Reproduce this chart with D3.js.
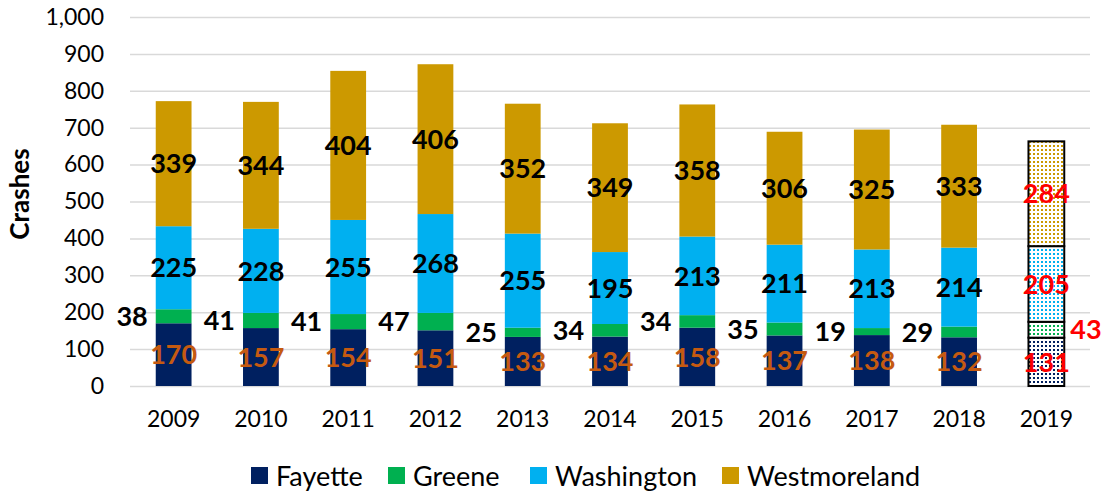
<!DOCTYPE html>
<html>
<head>
<meta charset="utf-8">
<script src="https://cdn.jsdelivr.net/npm/d3@7"></script>
<style>
  html, body { margin: 0; padding: 0; background: #fff; }
  svg { display: block; font-family: Lato, "Open Sans", sans-serif; }
</style>
</head>
<body>
<svg id="chart" width="1109" height="494"></svg>
<script>
// Crashes per year by county
const years = ["2009","2010","2011","2012","2013","2014","2015","2016","2017","2018","2019"];
const counties = ["Fayette", "Greene", "Washington", "Westmoreland"];
const fayette      = [170, 157, 154, 151, 133, 134, 158, 137, 138, 132, 131];
const greene       = [38, 41, 41, 47, 25, 34, 34, 35, 19, 29, 43];
const washington   = [225, 228, 255, 268, 255, 195, 213, 211, 213, 214, 205];
const westmoreland = [339, 344, 404, 406, 352, 349, 358, 306, 325, 333, 284];
const yTicks = [0, 100, 200, 300, 400, 500, 600, 700, 800, 900, 1000];
const preliminaryYear = "2019";

const colors = ["#002060", "#00B050", "#00B0F0", "#CC9900"];
const seriesValues = [fayette, greene, washington, westmoreland];

const rows = years.map((y, i) => {
  const r = { year: y };
  counties.forEach((c, k) => r[c] = seriesValues[k][i]);
  return r;
});
const stacked = d3.stack().keys(counties)(rows);

const svg = d3.select("#chart");
const margin = { left: 130, right: 19, top: 17, bottom: 108 };
const W = 1109, H = 494;

const x = d3.scaleBand().domain(years).range([margin.left, W - margin.right]).paddingInner(0.59).paddingOuter(0.295);
const y = d3.scaleLinear().domain([0, 1000]).range([H - margin.bottom, margin.top]);

// dotted fills for the preliminary year
const defs = svg.append("defs");
counties.forEach((c, k) => {
  const p = defs.append("pattern").attr("id", "dots" + k)
    .attr("width", 4).attr("height", 4).attr("patternUnits", "userSpaceOnUse");
  p.append("rect").attr("width", 4).attr("height", 4).attr("fill", "#fff");
  p.append("rect").attr("x", 1).attr("y", 1).attr("width", 2).attr("height", 2).attr("fill", colors[k]);
});

// gridlines
const yAxis = d3.axisLeft(y).tickValues(yTicks).tickSize(-(W - margin.left - margin.right)).tickFormat(d3.format(","));
const gy = svg.append("g").attr("transform", `translate(${margin.left},0)`).call(yAxis)
  .attr("font-family", null).attr("font-size", null);
gy.select(".domain").remove();
gy.selectAll(".tick line").attr("stroke", "#d9d9d9").attr("stroke-width", 1.5);
gy.selectAll(".tick text").attr("x", -26).attr("font-size", 23).attr("fill", "#000");

// x axis labels
const xAxis = d3.axisBottom(x).tickSize(0).tickPadding(25);
const gx = svg.append("g").attr("transform", `translate(0,${y(0)})`).call(xAxis)
  .attr("font-family", null).attr("font-size", null);
gx.select(".domain").remove();
gx.selectAll(".tick text").attr("font-size", 23).attr("fill", "#000");

// bars
const layers = svg.append("g").selectAll("g").data(stacked).join("g");
layers.each(function(layer, k) {
  d3.select(this).selectAll("rect").data(layer).join("rect")
    .attr("x", d => x(d.data.year))
    .attr("width", x.bandwidth())
    .attr("y", d => y(d[1]))
    .attr("height", d => y(d[0]) - y(d[1]))
    .attr("fill", d => d.data.year === preliminaryYear ? `url(#dots${k})` : colors[k])
    .attr("stroke", d => d.data.year === preliminaryYear ? "#000" : "none")
    .attr("stroke-width", 2);
});

// value labels
const labelG = svg.append("g").attr("font-weight", "bold").attr("font-size", 27);
stacked.forEach((layer, k) => {
  layer.forEach(d => {
    const yr = d.data.year;
    const prelim = yr === preliminaryYear;
    const val = d[1] - d[0];
    const mid = y((d[0] + d[1]) / 2);
    let tx = x(yr) + x.bandwidth() / 2, anchor = "middle";
    if (k === 1) {
      if (prelim) { tx = x(yr) + x.bandwidth() + 6; anchor = "start"; }
      else { tx = x(yr) - 8; anchor = "end"; }
    }
    let fill = k === 0 ? "#C55A11" : "#000";
    if (prelim) fill = "#FF0000";
    labelG.append("text")
      .attr("x", tx).attr("y", mid).attr("dy", "0.36em")
      .attr("text-anchor", anchor).attr("fill", fill)
      .text(val);
  });
});

// y axis title
svg.append("text")
  .attr("transform", `translate(29,194) rotate(-90)`)
  .attr("text-anchor", "middle").attr("font-weight", "bold").attr("font-size", 26)
  .text("Crashes");

// legend
const legendX = [251, 388, 530, 722];
const lg = svg.append("g").attr("transform", "translate(0,476)");
counties.forEach((c, k) => {
  const g = lg.append("g").attr("transform", `translate(${legendX[k]},0)`);
  g.append("rect").attr("x", 0).attr("y", -9).attr("width", 17).attr("height", 17).attr("fill", colors[k]);
  g.append("text").attr("x", 25).attr("dy", "0.36em").attr("font-size", 27).attr("fill", "#000").text(c);
});
</script>
</body>
</html>
